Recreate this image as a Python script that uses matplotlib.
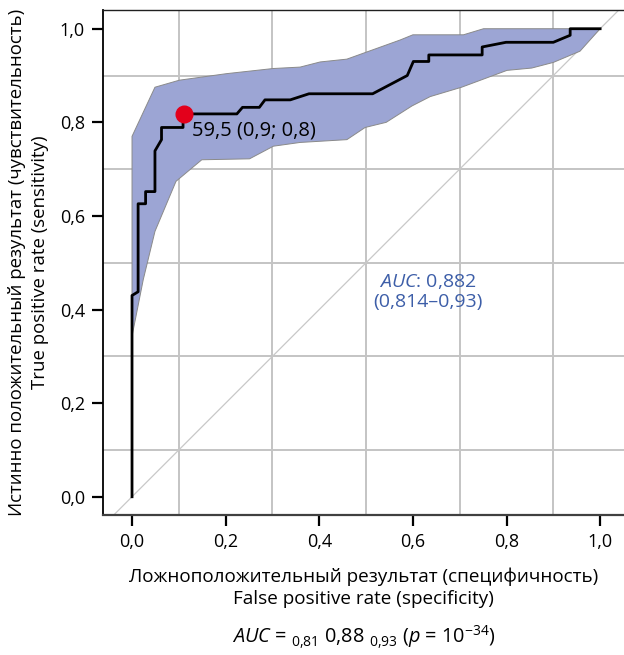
import matplotlib
matplotlib.use('Agg')
from matplotlib import pyplot as plt
from matplotlib.ticker import FixedLocator
import numpy as np

plt.rcParams['font.family'] = ['Open Sans', 'DejaVu Sans']
plt.rcParams['mathtext.fontset'] = 'custom'
plt.rcParams['mathtext.rm'] = 'Open Sans'
plt.rcParams['mathtext.it'] = 'Open Sans:italic'

# ROC curve
roc_fpr = [0.0, 0.0, 0.013, 0.013, 0.029, 0.029, 0.049, 0.049, 0.063, 0.063,
           0.109, 0.109, 0.224, 0.236, 0.272, 0.284, 0.338, 0.378, 0.514, 0.588,
           0.601, 0.634, 0.634, 0.748, 0.748, 0.799, 0.900, 0.936, 0.936, 1.0]
roc_tpr = [0.0, 0.43, 0.438, 0.626, 0.626, 0.652, 0.652, 0.739, 0.763, 0.789,
           0.789, 0.818, 0.818, 0.832, 0.832, 0.848, 0.848, 0.861, 0.861, 0.900,
           0.930, 0.930, 0.944, 0.944, 0.961, 0.971, 0.971, 0.986, 1.0, 1.0]

# confidence band
upper_fpr = [0.0, 0.049, 0.101, 0.202, 0.302, 0.359, 0.402, 0.459, 0.573, 0.600, 0.708, 0.751, 1.0]
upper_tpr = [0.770, 0.875, 0.890, 0.904, 0.915, 0.918, 0.929, 0.935, 0.976, 0.987, 0.987, 1.0, 1.0]
lower_fpr = [0.0, 0.024, 0.049, 0.094, 0.149, 0.251, 0.302, 0.359, 0.459, 0.498, 0.543,
             0.598, 0.637, 0.704, 0.801, 0.854, 0.900, 0.957, 1.0]
lower_tpr = [0.343, 0.464, 0.567, 0.674, 0.720, 0.722, 0.749, 0.757, 0.763, 0.789, 0.800,
             0.835, 0.855, 0.875, 0.911, 0.916, 0.928, 0.952, 1.0]

cut_fpr, cut_tpr = 0.11, 0.818
cut_label = '59,5 (0,9; 0,8)'

ticks = [0.0, 0.2, 0.4, 0.6, 0.8, 1.0]
tick_labels = ['0,0', '0,2', '0,4', '0,6', '0,8', '1,0']

fig = plt.figure(figsize=(6.24, 6.55), dpi=100)
ax = fig.add_axes([103/624, (655-515)/655, (624-103)/624, (515-10)/655])

ax.set_xlim(-0.062, 1.051)
ax.set_ylim(-0.039, 1.04)

# grid every 0.1
grid_pos = [i/10 for i in range(11)]
ax.xaxis.set_minor_locator(FixedLocator(grid_pos))
ax.yaxis.set_minor_locator(FixedLocator(grid_pos))
ax.grid(which='minor', color='#c4c4c4', linewidth=1.4, zorder=0)
ax.set_axisbelow(True)

ax.plot([-0.1, 1.1], [-0.1, 1.1], color='#c8c8c8', linewidth=0.9, zorder=1)

band_x = upper_fpr + lower_fpr[::-1]
band_y = upper_tpr + lower_tpr[::-1]
ax.fill(band_x, band_y, facecolor='#9ca5d4', edgecolor='#8a8a8a', linewidth=0.7, zorder=2)

ax.plot(roc_fpr, roc_tpr, color='black', linewidth=2.0, zorder=3)
ax.plot([cut_fpr], [cut_tpr], 'o', color='#e3001b', markersize=12, zorder=4)
ax.text(0.128, 0.782, cut_label, fontsize=14.5, va='center', ha='left', zorder=5)

ax.text(0.632, 0.438, r'$\mathit{AUC}$: 0,882' + '\n(0,814\u20130,93)', color='#3d5ea8',
        fontsize=14, ha='center', va='center', linespacing=1.15, zorder=5)

ax.set_xticks(ticks)
ax.set_xticklabels(tick_labels)
ax.set_yticks(ticks)
ax.set_yticklabels(tick_labels)
ax.tick_params(which='major', direction='out', length=8, width=1.6, color='black',
               labelsize=13, pad=5)
ax.tick_params(which='minor', length=0)

ax.spines['left'].set_color('black')
ax.spines['left'].set_linewidth(1.3)
ax.spines['bottom'].set_color('#404040')
ax.spines['bottom'].set_linewidth(1.6)
ax.spines['top'].set_color('#202020')
ax.spines['top'].set_linewidth(1.0)
ax.spines['right'].set_visible(False)

ax.set_xlabel('Ложноположительный результат (специфичность)\nFalse positive rate (specificity)',
              fontsize=13.6, labelpad=12, linespacing=1.3)
ax.set_ylabel('Истинно положительный результат (чувствительность)\nTrue positive rate (sensitivity)',
              fontsize=13.4, labelpad=8, linespacing=1.3)

fig.text(0.583, 1 - 637/655,
         r'$\mathit{AUC}$ = $_{0{,}81}$ 0,88 $_{0{,}93}$ ($\mathit{p}$ = 10$^{-34}$)',
         fontsize=14.3, ha='center', va='center')

fig.savefig('out.png', dpi=100)
